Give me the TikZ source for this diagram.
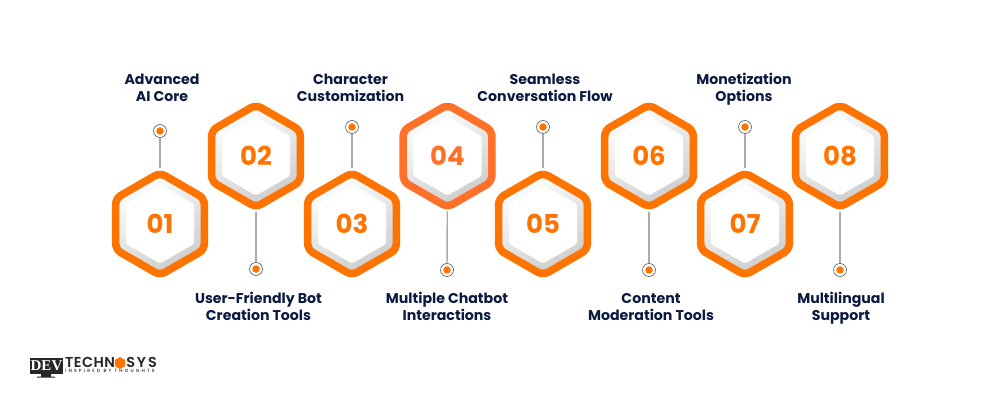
\documentclass[tikz,border=0pt]{standalone}
\usepackage{fontspec}
\setmainfont{Poppins}[BoldFont=* Bold]
\newfontfamily\numfont{Poppins Bold}
\newfontfamily\logofont[LetterSpace=3]{Poppins SemiBold}
\newfontfamily\logofontb[LetterSpace=13]{Poppins SemiBold}
\newfontfamily\tagfont[LetterSpace=47]{Poppins Medium}
\newfontfamily\devfont{Liberation Serif}
\usetikzlibrary{shapes.geometric}
\definecolor{hexorange}{HTML}{FF7300}
\definecolor{hexorangeb}{HTML}{FF7029}
\definecolor{navy}{HTML}{0A1A40}
\definecolor{linegray}{HTML}{ABABAB}
\definecolor{ringlight}{HTML}{FFFFFF}
\definecolor{ringdark}{HTML}{CCCCCC}
\tikzset{
  x=1pt,y=-1pt,
  hexring/.style={regular polygon,regular polygon sides=6,shape border rotate=30,
    minimum size=102.4pt,inner sep=0pt,draw=#1,line width=7.6pt,rounded corners=6pt,
    shading=axis,left color=ringlight,right color=ringdark,shading angle=30},
  hexring/.default=hexorange,
  hexcore/.style={regular polygon,regular polygon sides=6,shape border rotate=30,
    minimum size=79pt,inner sep=0pt,fill=white,rounded corners=2pt,
    text=#1,font=\fontsize{26}{26}\selectfont\numfont},
  hexcore/.default=hexorange,
  conn/.style={draw=linegray,line width=1.4pt},
  dotring/.style={circle,minimum size=13pt,inner sep=0pt,fill=white,draw=black!65,line width=.6pt},
  dotcore/.style={circle,minimum size=7.5pt,inner sep=0pt,fill=hexorange},
  lbl/.style={align=center,text=navy,font=\fontsize{14.15}{17}\selectfont\bfseries,inner sep=0pt},
}
\begin{document}
\begin{tikzpicture}
\useasboundingbox (0,0) rectangle (1000,406);
\fill[white] (0,0) rectangle (1000,406);
% dots
\foreach \n/\x/\y in {1/160/131,2/256/269,3/352/127,4/447/270,5/543/127,6/649/270,7/745/127,8/840/270}{
  \node[dotring] (d\n) at (\x,\y) {};
}
% hexagons
\foreach \n/\x/\y/\t in {1/160/224/01,2/256/156/02,3/352/224/03,5/543/224/05,6/649/156/06,7/745/224/07,8/840/156/08}{
  \node[hexring] (h\n) at (\x,\y) {};
}
\node[hexring=hexorangeb] (h4) at (447.5,156) {};
% connectors
\foreach \n in {1,...,8}{
  \draw[conn] (d\n) -- (h\n);
}
\foreach \n/\x/\y/\t in {1/160/224/01,2/256/156/02,3/352/224/03,5/543/224/05,6/649/156/06,7/745/224/07,8/840/156/08}{
  \node[hexcore] (c\n) at (\x,\y) {\t};
}
\node[hexcore=hexorangeb] (c4) at (447.5,156) {04};
\foreach \n in {1,...,8}{
  \node[dotcore] (o\n) at (d\n) {};
}
% labels
\node[lbl] (l1) at (162,90) {\strut Advanced\\\strut AI Core};
\node[lbl] (l2) at (258.5,309) {\strut User-Friendly Bot\\\strut Creation Tools};
\node[lbl] (l3) at (350.5,90) {\strut Character\\\strut Customization};
\node[lbl] (l4) at (447,309) {\strut Multiple Chatbot\\\strut Interactions};
\node[lbl] (l5) at (545,90) {\strut Seamless\\\strut Conversation Flow};
\node[lbl] (l6) at (651,309) {\strut Content\\\strut Moderation Tools};
\node[lbl] (l7) at (744,90) {\strut Monetization\\\strut Options};
\node[lbl] (l8) at (841,309) {\strut Multilingual\\\strut Support};
% logo
\fill[black!85] (30,358) rectangle (63,374);
\fill[black!85] (41,374) rectangle (51,376.5) (37,376.5) rectangle (55,377.5);
\node[inner sep=0pt,text=white,font=\fontsize{15}{15}\selectfont\devfont\bfseries] (lg) at (46.5,366) {DEV};
\node[inner sep=0pt,anchor=south west,align=left,text=black!85,font=\fontsize{14.4}{5.4}\selectfont\logofont] (lt) at (65,373.2)
  {TECHN\hspace{11.5pt}{\logofontb SYS}\\{\fontsize{4.6}{5.4}\selectfont\tagfont INSPIRED\ BY\ THOUGHTS}};
\node[regular polygon,regular polygon sides=6,shape border rotate=30,minimum size=12pt,inner sep=0pt,fill=hexorange] (lh) at (120,363) {};
\end{tikzpicture}
\end{document}
